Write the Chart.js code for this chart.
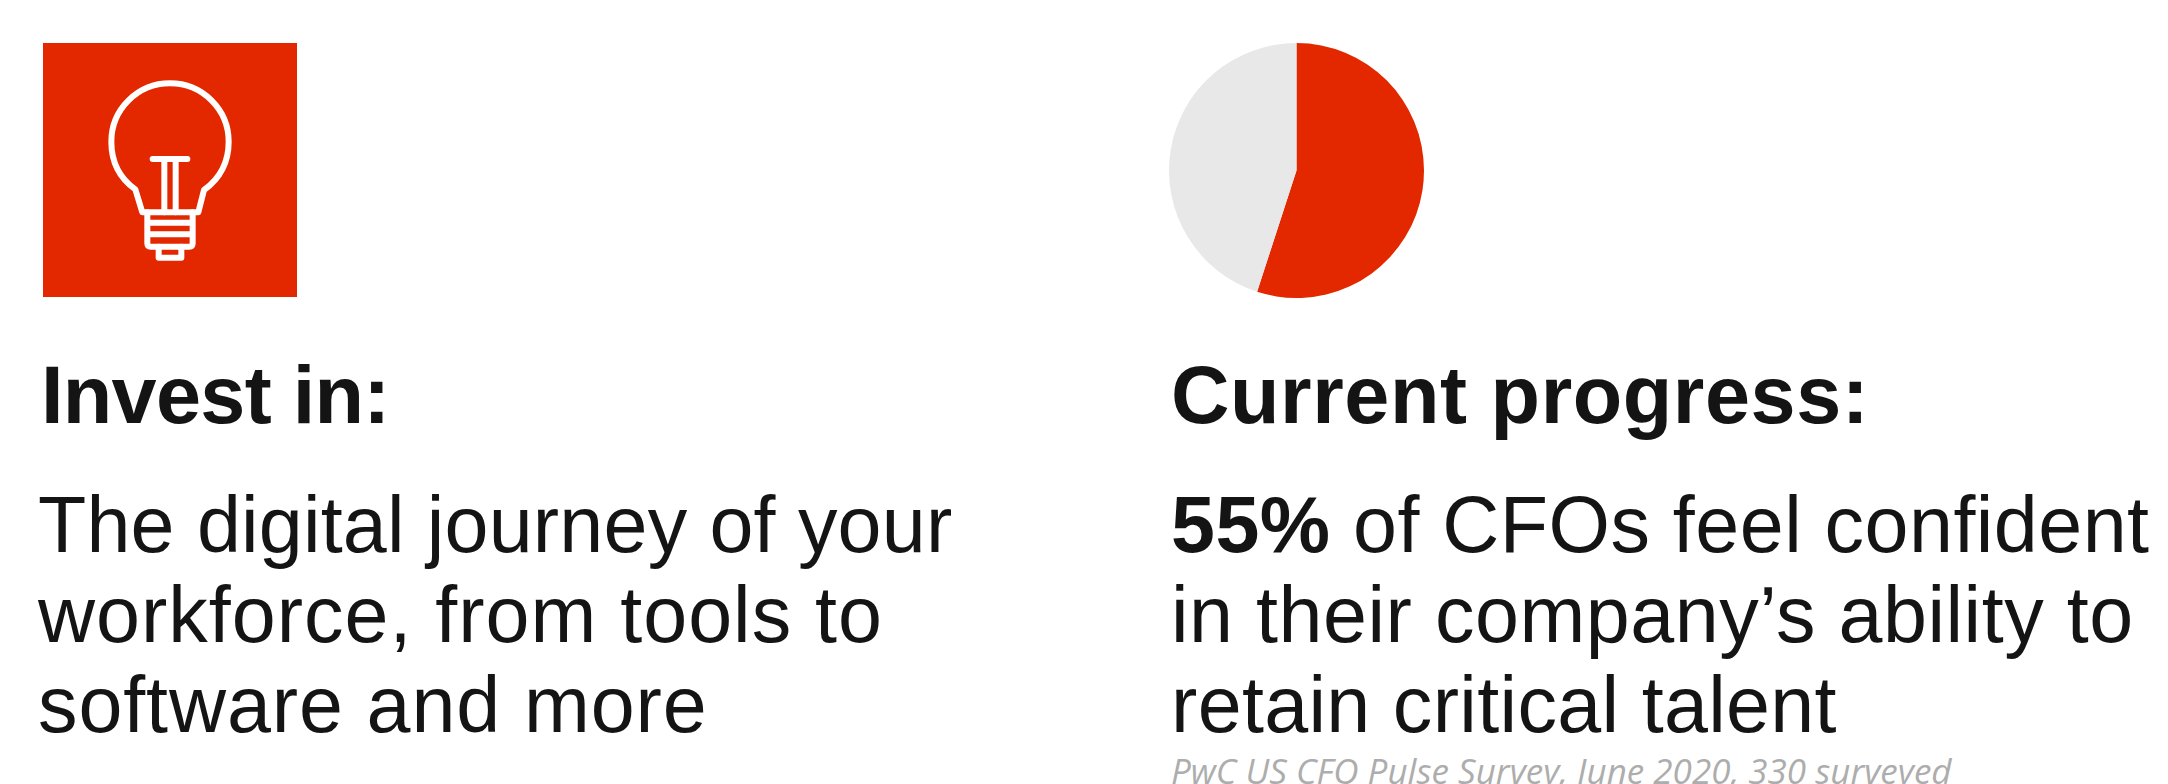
<!DOCTYPE html>
<html>
<head>
<meta charset="utf-8">
<title>Current progress</title>
<script src="https://cdn.jsdelivr.net/npm/chart.js@4/dist/chart.umd.js"></script>
<style>
  html, body { margin: 0; padding: 0; background: #fff; overflow: hidden; }
  #page { position: relative; width: 2168px; height: 784px; overflow: hidden; font-family: "Liberation Sans", sans-serif; color: #141414; }
  #page div { position: absolute; white-space: nowrap; }
  .title { font-weight: bold; font-size: 81px; line-height: 90px; }
  .body { font-size: 79px; line-height: 90px; }
  #note { left: 1171px; top: 749px; font-family: "Open Sans", sans-serif; font-style: italic; font-size: 35px; line-height: 44px; color: #adadad; }
  #iconBox { left: 43px; top: 43px; width: 254px; height: 254px; background: #e32800; }
  #pieBox { left: 1169px; top: 43px; width: 255px; height: 255px; }
</style>
</head>
<body>
<div id="page">
  <div id="iconBox">
    <svg viewBox="0 0 840 840" fill="none" stroke="#fff" stroke-width="18" stroke-linecap="round" stroke-linejoin="round" style="position:absolute;left:-13px;top:-13px;width:280px;height:280px">
      <path d="M337 547 L316 478 C270 445 244 395 244 335 C244 238 323 160 420 160 C517 160 596 238 596 335 C596 395 570 445 522 480 L505 547 Z"/>
      <path d="M368 387 H472 M403 387 V547 M437 387 V547"/>
      <path d="M352 547 V640 Q352 650 362 650 H478 Q488 650 488 640 V547 M352 578 H488 M352 613 H488"/>
      <path d="M386 650 V683 H454 V650"/>
    </svg>
  </div>
  <div id="pieBox"><canvas id="pie" width="255" height="255"></canvas></div>

  <div class="title" style="left:41px;top:350px;letter-spacing:-.7px">Invest in:</div>
  <div class="body" style="left:38px;top:480px;letter-spacing:.2px">The digital journey of your</div>
  <div class="body" style="left:38px;top:570px;letter-spacing:1px">workforce, from tools to</div>
  <div class="body" style="left:38px;top:660px;letter-spacing:.9px">software and more</div>

  <div class="title" style="left:1171px;top:350px;letter-spacing:.57px">Current progress:</div>
  <div class="body" style="left:1171px;top:480px;letter-spacing:.48px"><b>55%</b> of CFOs feel confident</div>
  <div class="body" style="left:1171px;top:570px;letter-spacing:.54px">in their company’s ability to</div>
  <div class="body" style="left:1171px;top:660px;letter-spacing:.33px">retain critical talent</div>
  <div id="note">PwC US CFO Pulse Survey, June 2020, 330 surveyed</div>
</div>
<script>
const categories = ['Confident', 'Not confident'];
const shares = [55, 45];
const sliceColors = ['#e32800', '#e8e8e8'];

new Chart(document.getElementById('pie'), {
  type: 'pie',
  data: {
    labels: categories,
    datasets: [{ data: shares, backgroundColor: sliceColors, borderWidth: 0 }],
  },
  options: {
    responsive: false,
    animation: false,
    layout: { padding: 0 },
    plugins: { legend: { display: false }, tooltip: { enabled: false } },
  },
});
</script>
</body>
</html>
